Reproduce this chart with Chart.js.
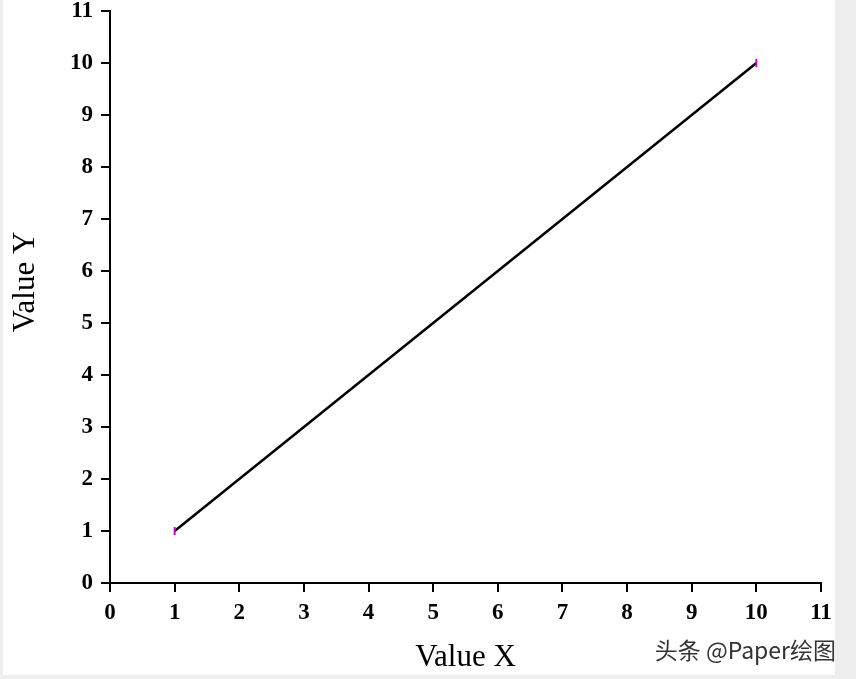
<!DOCTYPE html>
<html><head><meta charset="utf-8">
<script src="https://cdn.jsdelivr.net/npm/chart.js@4/dist/chart.umd.min.js"></script>
<style>html,body{margin:0;padding:0;background:#eeeeee;}#wrap{width:856px;height:679px;}</style>
</head><body><div id="wrap"><canvas id="c" width="856" height="679"></canvas></div>
<script>
const xValues = [1, 10];
const yValues = [1, 10];
const tickValues = [0,1,2,3,4,5,6,7,8,9,10,11];
const xTitle = 'Value X';
const yTitle = 'Value Y';
const watermark = '头条 @Paper绘图';

const bgPlugin = {
  id: 'bg',
  beforeDraw(chart) {
    const ctx = chart.ctx;
    ctx.save();
    ctx.fillStyle = '#eeeeee';
    ctx.fillRect(0, 0, 856, 679);
    ctx.fillStyle = '#ffffff';
    ctx.fillRect(3, 0, 832, 675);
    ctx.restore();
  },
  afterDraw(chart) {
    const ctx = chart.ctx;
    const ca = chart.chartArea;
    ctx.save();
    ctx.fillStyle = '#000';
    ctx.font = '31px "Liberation Serif", "Times New Roman", serif';
    ctx.textAlign = 'center';
    ctx.textBaseline = 'middle';
    ctx.fillText(xTitle, (ca.left + ca.right) / 2, 658);
    ctx.translate(26, 282);
    ctx.rotate(-Math.PI / 2);
    ctx.fillText(yTitle, 0, 0);
    ctx.restore();
    ctx.save();
    ctx.fillStyle = '#333333';
    ctx.font = '23px "Noto Sans CJK SC", sans-serif';
    ctx.textAlign = 'right';
    ctx.textBaseline = 'middle';
    ctx.fillText(watermark, 836, 650);
    ctx.restore();
  }
};

const tickFont = { family: '"Liberation Serif", "Times New Roman", serif', size: 23, weight: 'bold' };

new Chart(document.getElementById('c'), {
  type: 'scatter',
  data: {
    datasets: [{
      data: xValues.map((x, i) => ({ x: x, y: yValues[i] })),
      showLine: true,
      borderColor: '#000000',
      borderWidth: 2.5,
      pointStyle: 'line',
      rotation: 90,
      pointRadius: 4,
      pointBorderColor: '#d000d0',
      pointBorderWidth: 2,
      pointBackgroundColor: '#d000d0'
    }]
  },
  options: {
    responsive: false,
    animation: false,
    devicePixelRatio: 1,
    layout: { padding: { left: 0, right: 35, top: 11, bottom: 0 } },
    plugins: { legend: { display: false }, tooltip: { enabled: false } },
    scales: {
      x: {
        type: 'linear', min: 0, max: 11,
        afterBuildTicks(s) { s.ticks = tickValues.map(v => ({ value: v })); },
        afterFit(s) { s.height = 96; s.paddingLeft = 0; s.paddingRight = 0; },
        border: { display: true, color: '#000', width: 2 },
        grid: { drawOnChartArea: false, drawTicks: true, tickLength: 9, color: '#000', lineWidth: 2 },
        ticks: { color: '#000', font: tickFont, padding: 7, maxRotation: 0, autoSkip: false }
      },
      y: {
        type: 'linear', min: 0, max: 11,
        afterBuildTicks(s) { s.ticks = tickValues.map(v => ({ value: v })); },
        afterFit(s) { s.width = 110; s.paddingTop = 0; s.paddingBottom = 0; },
        border: { display: true, color: '#000', width: 2 },
        grid: { drawOnChartArea: false, drawTicks: true, tickLength: 9, color: '#000', lineWidth: 2 },
        ticks: { color: '#000', font: tickFont, padding: 8, autoSkip: false }
      }
    }
  },
  plugins: [bgPlugin]
});
</script></body></html>
